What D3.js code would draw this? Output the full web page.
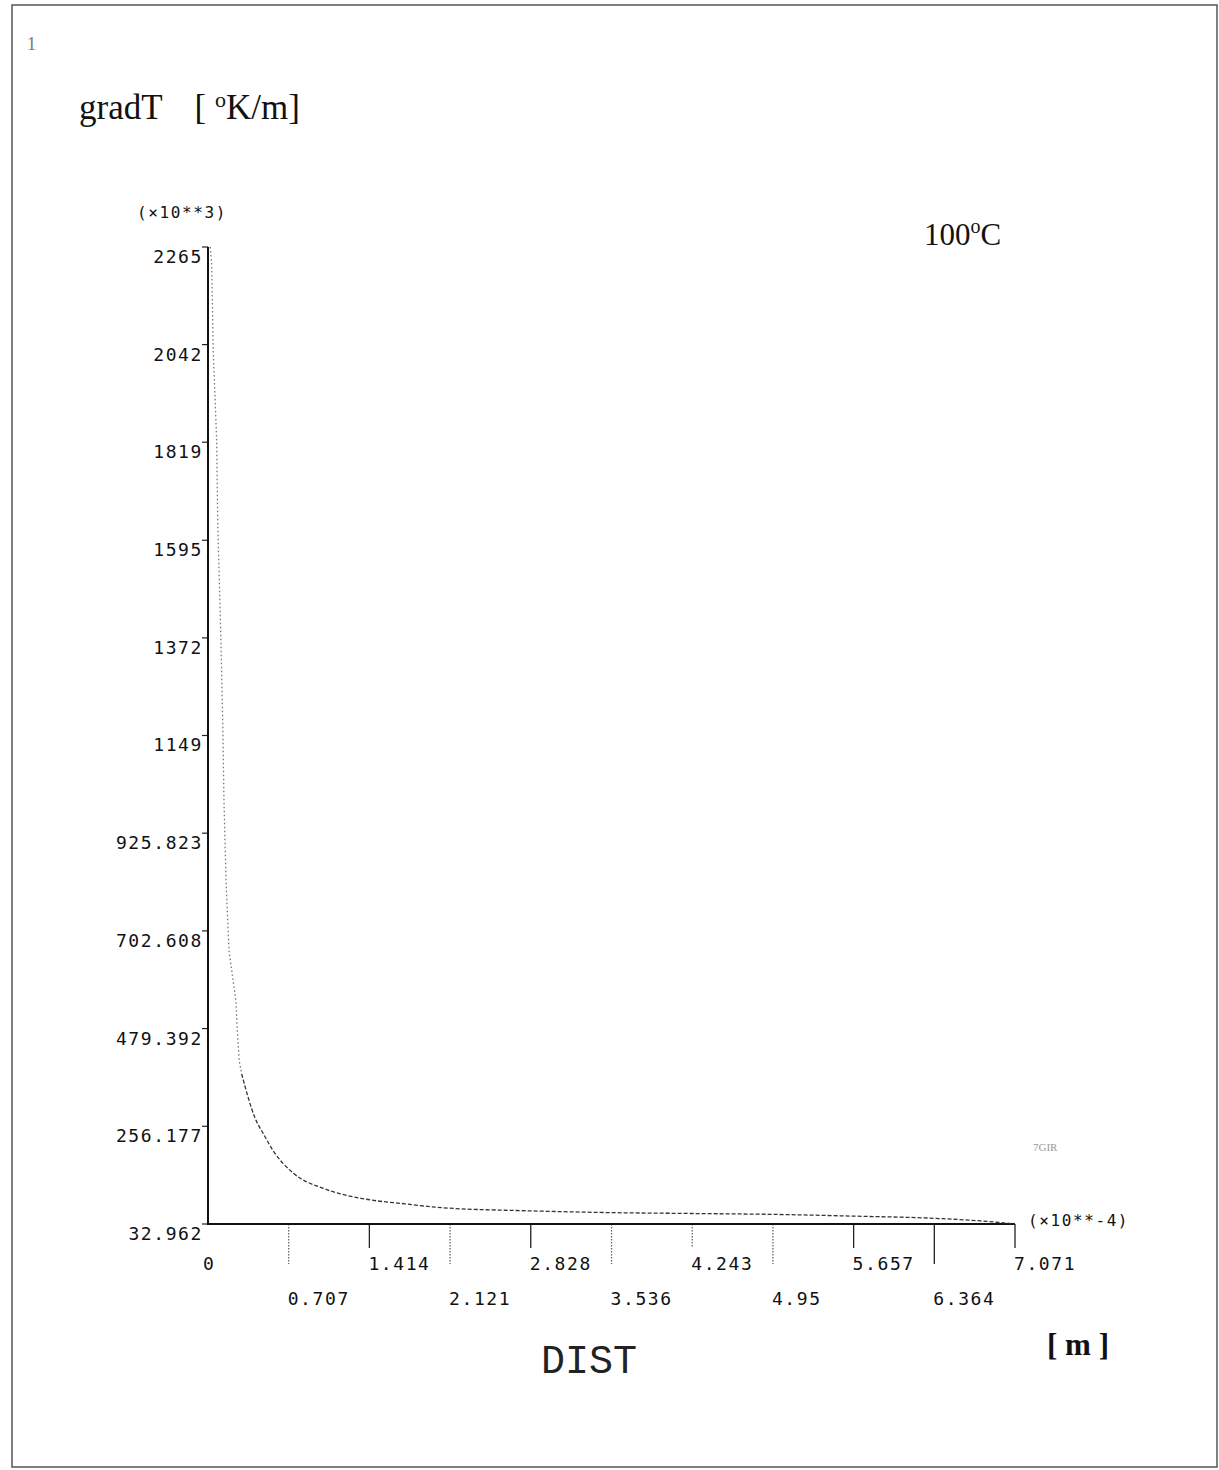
<!DOCTYPE html>
<html>
<head>
<meta charset="utf-8">
<script src="https://cdn.jsdelivr.net/npm/d3@7"></script>
<style>
  body { margin: 0; background: #fff; }
  svg { display: block; }
  .mono { font-family: "DejaVu Sans Mono", monospace; fill: #111; }
  .serif { font-family: "Liberation Serif", "Times New Roman", serif; fill: #111; }
</style>
</head>
<body>
<svg id="chart"></svg>
<script>
// distance along profile, units of 1e-4 m
const distX = [0.02, 0.032, 0.046, 0.076, 0.085, 0.111, 0.129, 0.140, 0.158, 0.184, 0.245, 0.257,
    0.274, 0.295, 0.353, 0.412, 0.485, 0.572, 0.748, 1.025, 1.376, 1.727, 2.060, 2.82, 3.52,
    4.23, 4.94, 5.65, 6.36, 6.77, 7.071];
// temperature gradient, units of 1e3 K/m
const gradT = [2265, 2226, 2027, 1822, 1639, 1388, 1182, 999, 817, 657, 542, 474,
    405, 376, 321, 275, 239, 200, 149, 113, 90, 79, 70, 63, 59,
    57, 55, 51, 46, 40, 33];

const yTicks = [32.962, 256.177, 479.392, 702.608, 925.823, 1149, 1372, 1595, 1819, 2042, 2265];
const yTickLabels = ["32.962", "256.177", "479.392", "702.608", "925.823", "1149", "1372", "1595", "1819", "2042", "2265"];
const xTicks = [0, 0.707, 1.414, 2.121, 2.828, 3.536, 4.243, 4.95, 5.657, 6.364, 7.071];
const xTickLabels = ["0", "0.707", "1.414", "2.121", "2.828", "3.536", "4.243", "4.95", "5.657", "6.364", "7.071"];
const dottedTicks = ["0.707", "2.121", "3.536", "4.243", "4.95"];

const width = 1219, height = 1470;
const svg = d3.select("#chart").attr("width", width).attr("height", height);

// page frame
svg.append("rect")
    .attr("x", 12).attr("y", 5)
    .attr("width", 1205).attr("height", 1462)
    .attr("fill", "none").attr("stroke", "#555").attr("stroke-width", 1.5);

const x = d3.scaleLinear().domain([0, 7.071]).range([208, 1015]);
const y = d3.scaleLinear().domain([32.962, 2265]).range([1224, 247]);

// y ticks
const yg = svg.append("g");
yg.selectAll("line")
    .data(yTicks)
    .join("line")
    .attr("x1", x(0) - 6).attr("x2", x(0))
    .attr("y1", d => y(d)).attr("y2", d => y(d))
    .attr("stroke", "#222").attr("stroke-width", 1.2);
yg.selectAll("text")
    .data(yTicks)
    .join("text")
    .attr("class", "mono")
    .attr("x", x(0) - 5)
    .attr("y", d => y(d) + 16)
    .attr("text-anchor", "end")
    .style("font-size", "18px")
    .style("letter-spacing", "1.6px")
    .text((d, i) => yTickLabels[i]);

// x ticks: upper row short, lower row long
const xg = svg.append("g");
xg.selectAll("line")
    .data(xTicks.slice(1))
    .join("line")
    .attr("x1", d => x(d)).attr("x2", d => x(d))
    .attr("y1", y(32.962))
    .attr("y2", (d, i) => y(32.962) + (i % 2 === 0 ? 40 : 24))
    .attr("stroke", (d, i) => dottedTicks.includes(xTickLabels[i + 1]) ? "#666" : "#222")
    .attr("stroke-width", 1.3)
    .attr("stroke-dasharray", (d, i) => dottedTicks.includes(xTickLabels[i + 1]) ? "1.5,1.5" : null);
xg.selectAll("text")
    .data(xTicks)
    .join("text")
    .attr("class", "mono")
    .attr("x", (d, i) => i === 0 ? x(d) - 5 : x(d) - 1)
    .attr("y", (d, i) => i % 2 === 0 ? 1270 : 1305)
    .style("font-size", "18px")
    .style("letter-spacing", "1.6px")
    .text((d, i) => xTickLabels[i]);

// axes
svg.append("path")
    .attr("d", `M${x(0)},${y(2265)} V${y(32.962)} H${x(7.071)}`)
    .attr("fill", "none").attr("stroke", "#111").attr("stroke-width", 2);

// curve
const pts = distX.map((d, i) => [d, gradT[i]]);
const line = d3.line().x(d => x(d[0])).y(d => y(d[1])).curve(d3.curveMonotoneX);
svg.append("path")
    .datum(pts.filter(d => d[1] >= 376))
    .attr("d", d3.line().x(d => x(d[0])).y(d => y(d[1])))
    .attr("fill", "none").attr("stroke", "#777").attr("stroke-width", 1.3)
    .attr("stroke-dasharray", "1.5,2.5");
svg.append("path")
    .datum(pts.filter(d => d[1] <= 376))
    .attr("d", line)
    .attr("fill", "none").attr("stroke", "#333").attr("stroke-width", 1.3)
    .attr("stroke-dasharray", "4,2");

// texts
svg.append("text").attr("class", "serif")
    .attr("x", 27).attr("y", 50)
    .style("font-size", "18px").style("fill", "#777")
    .text("1");

const title = svg.append("text").attr("class", "serif")
    .attr("x", 79).attr("y", 119)
    .style("font-size", "35px");
title.append("tspan").text("gradT");
title.append("tspan").attr("dx", 32).text("[ ");
title.append("tspan").attr("dy", -12).style("font-size", "22px").text("o");
title.append("tspan").attr("dy", 12).text("K/m]");

svg.append("text").attr("class", "mono")
    .attr("x", 137).attr("y", 218)
    .style("font-size", "16px").style("letter-spacing", "1.6px")
    .text("(\u00d710**3)");

const temp = svg.append("text").attr("class", "serif")
    .attr("x", 924).attr("y", 245)
    .style("font-size", "31px");
temp.append("tspan").text("100");
temp.append("tspan").attr("dy", -12).style("font-size", "20px").text("o");
temp.append("tspan").attr("dy", 12).text("C");

svg.append("text").attr("class", "mono")
    .attr("x", 1028).attr("y", 1226)
    .style("font-size", "16px").style("letter-spacing", "1.6px")
    .text("(\u00d710**-4)");

svg.append("text").attr("class", "serif")
    .attr("x", 1033).attr("y", 1151)
    .style("font-size", "11px").style("fill", "#999")
    .text("7GIR");

svg.append("text")
    .attr("x", 541).attr("y", 1373)
    .style("font-family", "'Liberation Mono', monospace")
    .style("font-size", "40px").style("fill", "#222")
    .text("DIST");

svg.append("text").attr("class", "serif")
    .attr("x", 1047).attr("y", 1355)
    .style("font-size", "31px").style("font-weight", "bold")
    .text("[ m ]");
</script>
</body>
</html>
